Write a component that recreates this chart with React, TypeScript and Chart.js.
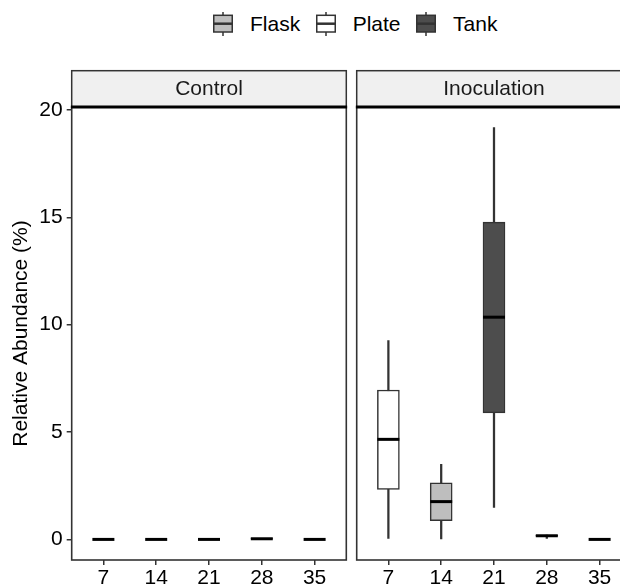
import React, { useEffect, useRef } from 'react';
import { Chart, registerables } from 'chart.js';

Chart.register(...registerables);

const FONT = '"Liberation Sans", Arial, Helvetica, sans-serif';

// ---- data ----
const days = ['7', '14', '21', '28', '35'];
const sourceTypes = ['Flask', 'Plate', 'Tank'];
const typeFills = ['#BEBEBE', '#FFFFFF', '#4D4D4D'];
const yTickValues = [0, 5, 10, 15, 20];
const panelNames = ['Control', 'Inoculation'];

// Control panel (per sampling day)
const controlType = ['Plate', 'Flask', 'Tank', 'Tank', 'Tank'];
const controlMin = [0, 0, 0, 0.02, 0];
const controlQ1 = [0, 0, 0, 0.03, 0];
const controlMedian = [0, 0, 0, 0.03, 0];
const controlQ3 = [0, 0, 0, 0.04, 0];
const controlMax = [0, 0, 0, 0.05, 0];

// Inoculation panel (per sampling day)
const inocType = ['Plate', 'Flask', 'Tank', 'Tank', 'Tank'];
const inocMin = [0.05, 0.02, 1.49, 0.05, 0];
const inocQ1 = [2.33, 0.87, 5.89, 0.15, 0];
const inocMedian = [4.66, 1.76, 10.35, 0.17, 0];
const inocQ3 = [6.96, 2.64, 14.78, 0.19, 0];
const inocMax = [9.26, 3.5, 19.18, 0.2, 0.01];

// y range like ggplot (5% expansion)
const allVals = [...controlMin, ...controlMax, ...inocMin, ...inocMax];
const dataLo = Math.min(...allVals);
const dataHi = Math.max(...allVals);
const yMin = dataLo - 0.05 * (dataHi - dataLo);
const yMax = dataHi + 0.05 * (dataHi - dataLo);

type Panel = {
  name: string;
  type: string[];
  min: number[];
  q1: number[];
  median: number[];
  q3: number[];
  max: number[];
};

const panels: Panel[] = [
  { name: panelNames[0], type: controlType, min: controlMin, q1: controlQ1, median: controlMedian, q3: controlQ3, max: controlMax },
  { name: panelNames[1], type: inocType, min: inocMin, q1: inocQ1, median: inocMedian, q3: inocQ3, max: inocMax },
];

function fillFor(t: string) {
  return typeFills[sourceTypes.indexOf(t)];
}

function makeConfig(p: Panel, showY: boolean, padLeft: number, padRight: number): any {
  const medianPlugin = {
    id: 'medianLines',
    afterDatasetsDraw(chart: any) {
      const meta = chart.getDatasetMeta(0);
      const ys = chart.scales.y;
      const ctx = chart.ctx;
      ctx.save();
      ctx.strokeStyle = '#000000';
      ctx.lineWidth = 3;
      ctx.lineCap = 'butt';
      meta.data.forEach((el: any, i: number) => {
        const { x, width } = el.getProps(['x', 'width'], true);
        const py = ys.getPixelForValue(p.median[i]);
        ctx.beginPath();
        ctx.moveTo(x - width / 2, py);
        ctx.lineTo(x + width / 2, py);
        ctx.stroke();
      });
      ctx.restore();
    },
  };

  const framePlugin = {
    id: 'facetFrame',
    afterDraw(chart: any) {
      const { ctx, chartArea } = chart;
      const { left, right, top, bottom } = chartArea;
      const stripTop = top - 36.3;
      ctx.save();
      // strip
      ctx.fillStyle = '#F0F0F0';
      ctx.fillRect(left, stripTop, right - left, top - stripTop);
      ctx.strokeStyle = '#333333';
      ctx.lineWidth = 1.5;
      ctx.strokeRect(left, stripTop, right - left, top - stripTop);
      ctx.fillStyle = '#1A1A1A';
      ctx.font = `21px ${FONT}`;
      ctx.textAlign = 'center';
      ctx.textBaseline = 'middle';
      ctx.fillText(p.name, (left + right) / 2, (stripTop + top) / 2);
      // panel border
      ctx.strokeStyle = '#333333';
      ctx.lineWidth = 1.6;
      ctx.strokeRect(left, top, right - left, bottom - top);
      // heavy line between strip and panel
      ctx.strokeStyle = '#000000';
      ctx.lineWidth = 3;
      ctx.beginPath();
      ctx.moveTo(left - 0.8, top);
      ctx.lineTo(right + 0.8, top);
      ctx.stroke();
      ctx.restore();
    },
  };

  return {
    data: {
      datasets: [
        {
          type: 'bar',
          label: 'box',
          data: days.map((_, i) => ({ x: i + 1, y: [p.q1[i], p.q3[i]] })),
          backgroundColor: p.type.map(fillFor),
          borderColor: '#333333',
          borderWidth: 1.5,
          borderSkipped: false,
          barThickness: 22,
          grouped: false,
          order: 1,
        },
        {
          type: 'bar',
          label: 'whisker',
          data: days.map((_, i) => ({ x: i + 1, y: [p.min[i], p.max[i]] })),
          backgroundColor: '#333333',
          borderWidth: 0,
          barThickness: 1.6,
          grouped: false,
          order: 2,
        },
      ],
    },
    options: {
      responsive: false,
      animation: false,
      devicePixelRatio: 1,
      layout: { padding: { left: padLeft, right: padRight, top: 107, bottom: 0 } },
      plugins: { legend: { display: false }, tooltip: { enabled: false } },
      scales: {
        x: {
          type: 'linear',
          offset: false,
          min: 0.4,
          max: 5.6,
          afterBuildTicks: (s: any) => {
            s.ticks = days.map((_, i) => ({ value: i + 1 }));
          },
          afterFit: (s: any) => {
            s.height = 26;
          },
          grid: {
            offset: false,
            drawOnChartArea: false,
            drawTicks: true,
            tickLength: 5,
            color: '#333333',
            lineWidth: 1.5,
          },
          border: { display: false },
          ticks: {
            padding: 1,
            color: '#000000',
            font: { size: 21, family: FONT },
            autoSkip: false,
            maxRotation: 0,
            callback: (v: any) => days[Math.round(Number(v)) - 1] ?? '',
          },
        },
        y: {
          type: 'linear',
          display: showY,
          min: yMin,
          max: yMax,
          afterBuildTicks: (s: any) => {
            s.ticks = yTickValues.map((v) => ({ value: v }));
          },
          afterFit: (s: any) => {
            s.width = showY ? 67.7 : 0;
          },
          grid: { drawOnChartArea: false, drawTicks: true, tickLength: 5, color: '#333333', lineWidth: 1.5 },
          border: { display: false },
          ticks: { padding: 4, color: '#000000', font: { size: 21, family: FONT } },
          title: {
            display: showY,
            text: 'Relative Abundance (%)',
            color: '#000000',
            font: { size: 21, family: FONT },
            padding: { top: 5, bottom: 0 },
          },
        },
      },
    },
    plugins: [medianPlugin, framePlugin],
  };
}

function LegendKey({ fill }: { fill: string }) {
  return (
    <svg width="20" height="24" viewBox="0 0 20 24" style={{ display: 'block' }}>
      <line x1="10" y1="0" x2="10" y2="24" stroke="#333333" strokeWidth="1.5" />
      <rect x="0.75" y="3.3" width="18.5" height="16.7" fill={fill} stroke="#333333" strokeWidth="1.5" />
      <line x1="0.75" y1="11.7" x2="19.25" y2="11.7" stroke="#333333" strokeWidth="2.5" />
    </svg>
  );
}

export default function App() {
  const ref1 = useRef<HTMLCanvasElement>(null);
  const ref2 = useRef<HTMLCanvasElement>(null);

  useEffect(() => {
    Chart.defaults.font.family = FONT;
    const c1 = new Chart(ref1.current as HTMLCanvasElement, makeConfig(panels[0], true, 4, 3.7));
    const c2 = new Chart(ref2.current as HTMLCanvasElement, makeConfig(panels[1], false, 6.7, 8.7));
    return () => {
      c1.destroy();
      c2.destroy();
    };
  }, []);

  return (
    <div
      style={{
        position: 'absolute',
        left: 0,
        top: 0,
        width: 620,
        height: 586,
        overflow: 'hidden',
        background: '#FFFFFF',
        fontFamily: FONT,
      }}
    >
      <div
        style={{
          position: 'absolute',
          left: 213,
          top: 11.7,
          height: 24,
          display: 'flex',
          alignItems: 'center',
          whiteSpace: 'nowrap',
          fontSize: 21,
          color: '#000000',
        }}
      >
        {sourceTypes.map((t, i) => (
          <React.Fragment key={t}>
            <div style={{ marginLeft: i === 0 ? 0 : 15.5 }}>
              <LegendKey fill={typeFills[i]} />
            </div>
            <span style={{ marginLeft: 17, lineHeight: '24px' }}>{t}</span>
          </React.Fragment>
        ))}
      </div>
      <canvas
        ref={ref1}
        width={350}
        height={586}
        style={{ position: 'absolute', left: 0, top: 0, width: 350, height: 586 }}
      />
      <canvas
        ref={ref2}
        width={290}
        height={586}
        style={{ position: 'absolute', left: 350, top: 0, width: 290, height: 586 }}
      />
    </div>
  );
}
